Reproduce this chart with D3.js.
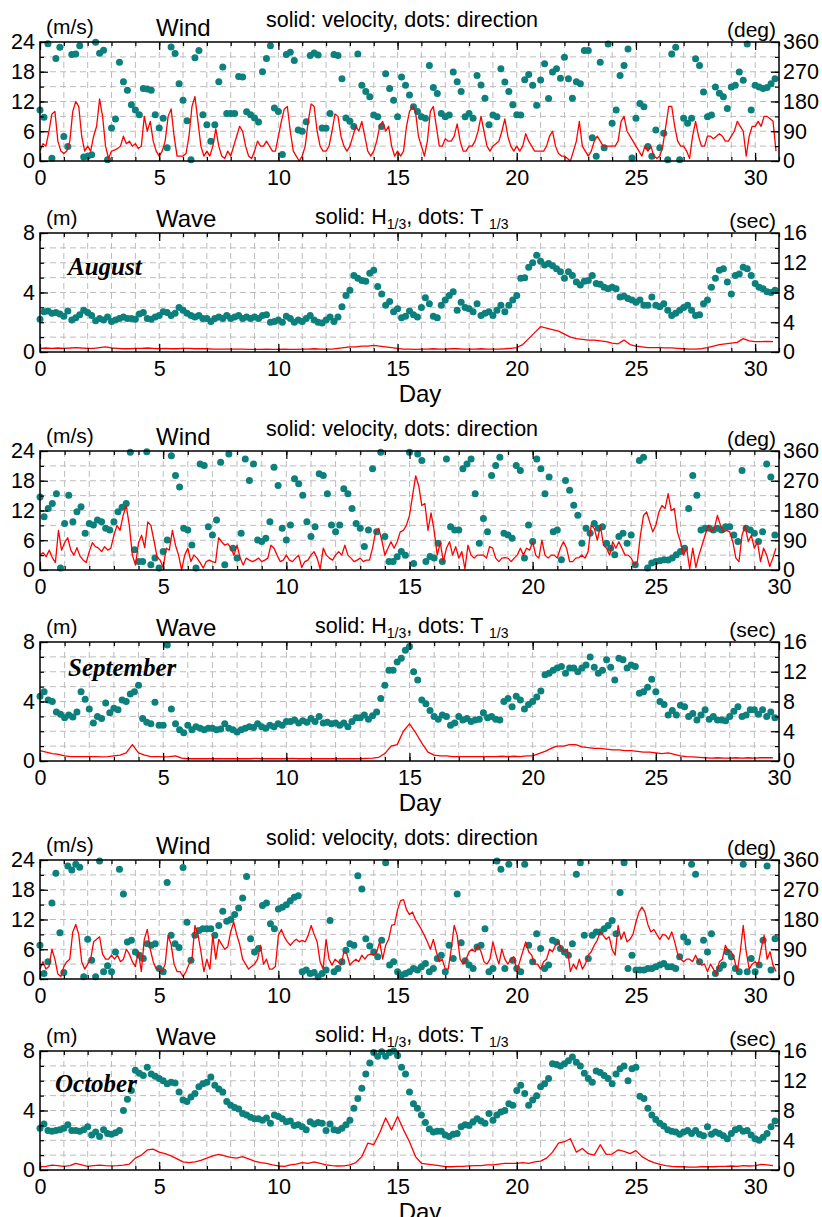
<!DOCTYPE html>
<html>
<head>
<meta charset="utf-8">
<script src="https://cdn.jsdelivr.net/npm/d3@7"></script>
<style>
  body { margin: 0; background: #fff; }
  svg text { font-family: "Liberation Sans", Arial, sans-serif; fill: #000; }
  svg text.month { font-family: "Liberation Serif", "Times New Roman", serif; font-style: italic; font-weight: bold; }
  .grid line { stroke: #bcbcbc; stroke-dasharray: 6,4; stroke-width: 1; }
  .axis path.domain { display: none; }
  .axis line { stroke: #000; stroke-width: 1.2; }
  .axis text { font-size: 21.5px; font-family: "Liberation Sans", Arial, sans-serif; }
</style>
</head>
<body>
<svg id="chart" width="822" height="1217"></svg>
<script>
'use strict'

// ---- axis ticks ----
const windSpeedTicks = [0, 6, 12, 18, 24];
const windDirTicks = [0, 90, 180, 270, 360];
const waveHTicks = [0, 4, 8];
const waveTTicks = [0, 4, 8, 12, 16];
const dayTicks = [0, 5, 10, 15, 20, 25, 30];

const monthNames = ['August', 'September', 'October'];
const monthDays = [31, 30, 31];

// sampling: wind speed 8/day, wind dir 6/day, H1/3 4/day, T1/3 6/day
const speedPerDay = 8, dirPerDay = 6, hPerDay = 4, tPerDay = 6;

// ---- August ----
const augWindSpeed = [
  2, 3.5, 3, 6, 9.5, 10, 4, 2,
  1.5, 2, 4, 10, 12, 11, 5, 2,
  3, 2, 5, 7, 12.5, 9, 3, 0.5,
  2, 2.2, 2.5, 3, 5, 3.5, 4, 3,
  3.5, 2.5, 3, 9, 6, 8, 4, 2,
  1, 2, 4, 9, 10.5, 5, 1, 1,
  1, 1.5, 5, 11, 13, 8, 3, 1,
  2, 1, 3, 6.5, 3, 1, 0.5, 2,
  1, 3, 5, 7, 6, 3, 1, 0.5,
  2, 4, 3, 3, 4, 3, 2, 2,
  5, 8, 10.5, 11, 6, 2, 1, 0,
  1, 3, 8, 11.5, 11, 6, 3, 2,
  2, 3, 6, 9.5, 9, 5, 3, 2,
  3, 5, 7, 6, 8, 5, 2, 1,
  2, 4, 7, 8, 6, 7, 3, 1,
  2, 1, 2, 7, 10, 11, 10, 5,
  3, 1, 4, 10, 11, 7, 3, 3,
  4.5, 4, 4, 5, 7.5, 4, 2, 2,
  3, 3, 4, 6, 9, 6, 3, 2,
  3, 3.5, 4, 6, 8.5, 5, 3, 2,
  3, 2, 3, 5.5, 4, 3, 2, 2,
  2, 2, 3, 5, 6, 3, 1.5, 1,
  1, 0.5, 0, 2, 4, 8, 3, 2,
  1, 2, 4, 5, 4, 3, 3, 3,
  3, 3, 4, 8, 9, 6, 5, 4,
  3, 2, 1, 3, 2, 3, 1, 0.5,
  1, 3, 7, 11, 11, 7, 4, 3,
  3, 2, 0.5, 5, 8, 5, 3, 3,
  5, 5, 4.5, 5, 5.5, 5, 4, 4,
  5, 6, 8, 7, 6, 1, 5, 7,
  7, 8, 7, 9, 9, 8.5, 8, 2
];
const augWindDir = [
  154, 132, 355, 8, 310, 344,
  74, 44, 322, 324, 349, 12,
  14, 19, 359, 326, 335, 4,
  100, 127, 299, 240, 214, 170,
  154, 140, 219, 218, 214, 140,
  100, 129, 40, 345, 325, 234,
  184, 122, 4, 312, 334, 140,
  110, 60, 110, 240, 284, 144,
  144, 144, 256, 254, 149, 140,
  130, 118, 270, 310, 349, 160,
  150, 20, 322, 329, 304, 94,
  90, 119, 319, 327, 321, 100,
  99, 144, 322, 319, 249, 130,
  120, 104, 324, 229, 210, 194,
  139, 134, 104, 264, 219, 184,
  134, 254, 229, 200, 164, 150,
  134, 129, 289, 222, 204, 144,
  134, 139, 269, 240, 210, 134,
  144, 129, 259, 230, 190, 110,
  139, 134, 279, 239, 210, 170,
  140, 139, 246, 262, 229, 169,
  245, 294, 189, 269, 279, 250,
  314, 249, 190, 240, 234, 334,
  334, 70, 14, 299, 40, 354,
  114, 154, 259, 289, 339, 9,
  129, 174, 164, 44, 14, 94,
  40, 84, 4, 324, 344, 4,
  129, 114, 129, 309, 289, 209,
  134, 139, 224, 205, 194, 159,
  224, 229, 269, 244, 354, 154,
  229, 224, 219, 222, 234, 249
];
const augWaveH = [
  .25, .27, .25, .27,  .25, .27, .3, .27,  .25, .25, .3, .35,  .27, .25, .22, .22,
  .25, .25, .27, .25,  .22, .25, .22, .22,  .25, .25, .22, .22,  .22, .2, .2, .2,
  .2, .2, .2, .18,  .18, .18, .2, .18,  .18, .2, .18, .18,  .2, .2, .22, .2,
  .2, .2, .25, .3,  .35, .35, .4, .4,  .45, .4, .35, .3,  .25, .2, .2, .18,
  .2, .2, .22, .2,  .2, .22, .22, .2,  .2, .2, .22, .2,  .2, .2, .22, .25,
  .3, .5, .9, 1.3,  1.7, 1.6, 1.5, 1.4,  1.2, 1.0, .9, .85,  .8, .8, .75, .7,
  .6, .55, .8, .5,  .4, .35, .3, .3,  .3, .28, .28, .25,  .22, .2, .2, .22,
  .3, .4, .5, .55,  .6, .65, .9, .75,  .7, .7, .72, .7
];
const augWaveT = [
  4.4, 5.4, 5.5, 5.2, 5.3, 5.1,
  4.8, 5.5, 4.3, 4.6, 5.0, 5.6,
  5.3, 4.9, 4.2, 4.5, 4.3, 4.7,
  4.1, 4.3, 4.5, 4.7, 4.5, 4.5,
  4.4, 5.1, 5.3, 4.5, 4.4, 4.7,
  4.9, 5.4, 5.3, 4.9, 5.2, 6.0,
  5.6, 5.2, 4.9, 4.7, 4.9, 4.5,
  4.5, 4.1, 4.5, 4.7, 4.5, 4.9,
  4.5, 4.7, 4.9, 4.5, 4.7, 4.5,
  4.7, 4.5, 4.9, 5.0, 4.0, 4.1,
  4.3, 4.0, 4.8, 4.5, 4.0, 4.3,
  4.1, 4.5, 4.9, 4.3, 4.0, 3.9,
  4.3, 4.7, 4.1, 4.7, 6.1, 7.6,
  8.3, 10.3, 9.9, 9.6, 9.5, 10.6,
  11.0, 8.8, 7.8, 6.3, 6.8, 5.4,
  5.8, 4.6, 4.8, 5.5, 5.0, 4.7,
  6.0, 7.3, 6.5, 4.8, 4.6, 6.3,
  7.0, 7.6, 8.1, 5.6, 6.7, 6.0,
  5.8, 5.4, 6.5, 4.9, 5.2, 5.4,
  4.9, 5.6, 6.3, 5.4, 6.3, 7.0,
  7.6, 9.9, 10.0, 11.4, 12.0, 13.0,
  12.2, 11.7, 11.9, 11.6, 11.2, 10.8,
  9.9, 10.8, 10.3, 9.4, 9.0, 9.5,
  9.6, 10.3, 9.2, 9.1, 8.7, 8.5,
  8.7, 8.5, 7.4, 7.5, 7.2, 7.0,
  6.7, 7.0, 6.3, 6.3, 7.4, 6.3,
  6.1, 6.5, 5.6, 4.9, 5.2, 5.6,
  6.0, 6.3, 5.6, 4.9, 5.0, 6.5,
  7.0, 8.7, 9.9, 11.0, 11.2, 9.4,
  7.8, 10.3, 10.5, 11.4, 11.2, 10.3,
  9.2, 8.7, 8.5, 8.1, 8.0, 8.3
];

// ---- September ----
const sepWindSpeed = [
  3, 3.5, 2.7, 4, 2.5, 1.5, 8, 4,
  5.5, 6.5, 4, 3, 4.5, 2.8, 2, 1.5,
  3.7, 5.5, 4.7, 4.4, 3.7, 4.7, 4, 4.4,
  7, 9, 8, 11, 13, 9, 3, 1,
  5.5, 7, 4.5, 9.7, 9, 6, 2.7, 2,
  0.5, 4.4, 4, 8, 5, 3, 0, 3,
  4.4, 1.7, 3, 2.4, 1.5, 0.4, 1.7, 2,
  1.7, 1.5, 6.5, 5.7, 5, 5.3, 4.4, 3,
  5, 2.4, 1, 2.4, 2, 1.7, 2, 2.4,
  1.7, 2, 2.4, 5, 4.4, 3, 1.7, 2,
  3, 2, 1.7, 2.4, 3, 0.5, 1.7, 2,
  3, 3.7, 2.4, 0.2, 4.4, 3, 2.4, 2,
  3, 3.7, 3, 5, 3, 2.4, 1.7, 2,
  2.4, 1.7, 2, 2, 4.4, 7.7, 8.4, 6,
  3, 4.4, 5.7, 4.4, 5.7, 7.7, 8, 9,
  11, 15, 19, 17, 13, 13.4, 8, 11.5,
  8, 3, 5.5, 1.7, 4.4, 5.7, 3, 4.7,
  2.4, 3.7, 0.2, 5, 3, 2.4, 3, 3,
  3, 2.4, 4.7, 4.4, 2.4, 1.7, 2.4, 2.5,
  2.4, 1.7, 2.4, 3, 4.4, 3, 4.4, 4,
  5.7, 3, 2.4, 6, 3, 2.4, 3, 3,
  2.4, 4.4, 5.7, 4.4, 1.7, 1.7, 2.4, 2.5,
  3, 2.4, 3.7, 9, 8.4, 6, 9, 5,
  4.4, 3, 5.7, 4.4, 5.7, 4.4, 3, 3,
  2.4, 1, 1.7, 7, 11, 11.7, 9.7, 7.7,
  9, 11.7, 13, 12.4, 15.4, 12, 12.4, 7.7,
  5.7, 3, 4.4, 0.2, 4.4, 0.5, 3, 5,
  7, 9, 7.7, 8.4, 11, 9, 7.7, 8,
  7.7, 5.7, 2.4, 1.7, 7, 9, 5.7, 7,
  4.4, 5.7, 1.7, 4.4, 3, 0.7, 2.4, 4.4
];
const sepWindDir = [
  221, 161, 186, 201, 231, 6,
  141, 226, 146, 176, 191, 111,
  141, 136, 151, 146, 126, 121,
  146, 176, 190, 201, 356, 61,
  26, 26, 358, 16, 36, 6,
  56, 91, 346, 286, 251, 126,
  121, 76, 6, 321, 316, 131,
  106, 151, 326, 16, 351, 66,
  36, 111, 336, 271, 321, 91,
  86, 96, 146, 311, 256, 126,
  91, 136, 276, 261, 226, 146,
  101, 131, 291, 286, 231, 136,
  116, 136, 246, 231, 186, 141,
  126, 71, 121, 306, 116, 356,
  101, 26, 26, 40, 56, 45,
  356, 20, 351, 331, 26, 41,
  36, 81, 26, 336, 131, 121,
  121, 306, 321, 336, 231, 81,
  156, 116, 286, 316, 341, 111,
  106, 96, 316, 301, 36, 136,
  86, 336, 306, 231, 281, 116,
  121, 31, 271, 241, 196, 166,
  81, 126, 111, 141, 126, 131,
  81, 66, 46, 101, 111, 81,
  106, 16, 331, 341, 6, 21,
  26, 28, 31, 30, 36, 46,
  56, 66, 186, 286, 226, 121,
  126, 126, 121, 126, 121, 131,
  131, 106, 86, 301, 126, 121,
  111, 86, 116, 321, 281, 106
];
const sepWaveH = [
  .7, .6, .5, .45,  .35, .3, .3, .3,  .3, .3, .28, .3,  .35, .4, .55, 1.1,
  .55, .4, .3, .3,  .28, .3, .35, .2,  .15, .15, .15, .15,  .15, .15, .15, .15,
  .15, .15, .15, .18,  .15, .15, .15, .15,  .15, .18, .15, .15,  .15, .15, .15, .15,
  .15, .15, .15, .15,  .15, .18, .2, .25,  .5, 1.0, 1.1, 2.0,  2.5, 1.9, 1.2, .6,
  .4, .35, .35, .3,  .3, .3, .3, .3,  .3, .3, .3, .32,  .3, .32, .3, .35,
  .35, .5, .65, .85,  1.0, 1.0, 1.1, 1.1,  .95, .9, .85, .85,  .8, .75, .75, .7,
  .7, .65, .6, .6,  .55, .5, .55, .45,  .35, .3, .28, .25,  .22, .2, .22, .2,
  .2, .22, .2, .22,  .2, .22, .22, .22
];
const sepWaveT = [
  8.7, 9.3, 8.2, 8.0, 6.6, 6.3,
  5.8, 6.2, 5.9, 6.6, 9.3, 8.3,
  7.0, 5.1, 6.0, 5.7, 7.8, 6.5,
  7.1, 6.9, 8.2, 8.0, 9.0, 9.3,
  10.2, 5.7, 5.2, 5.0, 7.9, 4.8,
  4.8, 15.6, 7.0, 5.0, 4.2, 3.8,
  4.8, 4.2, 4.6, 4.4, 4.2, 4.4,
  4.4, 4.2, 4.3, 5.0, 4.4, 4.2,
  3.9, 4.2, 4.4, 4.6, 4.5, 5.0,
  4.6, 4.4, 4.8, 4.6, 5.0, 4.8,
  5.3, 5.3, 5.5, 5.1, 5.4, 5.2,
  5.7, 5.3, 6.0, 5.1, 5.2, 5.0,
  5.1, 4.8, 5.1, 4.6, 5.3, 5.8,
  5.8, 6.2, 5.6, 6.1, 6.6, 8.4,
  10.2, 12.2, 12.2, 13.3, 13.8, 14.9,
  15.4, 12.0, 10.9, 8.2, 7.7, 6.8,
  6.0, 5.6, 6.2, 6.0, 4.8, 5.1,
  6.0, 5.5, 5.7, 5.3, 5.5, 5.6,
  6.5, 5.8, 6.0, 5.6, 5.5, 8.0,
  8.4, 7.3, 8.7, 8.2, 7.0, 7.6,
  8.0, 8.6, 9.4, 11.6, 11.8, 12.2,
  12.5, 12.7, 11.8, 12.5, 12.5, 12.0,
  12.5, 12.9, 14.0, 12.6, 11.8, 12.2,
  13.6, 12.6, 10.9, 13.8, 13.6, 12.5,
  12.9, 12.7, 9.1, 9.3, 9.9, 11.0,
  9.3, 8.0, 7.6, 6.2, 6.8, 6.2,
  7.5, 7.3, 6.0, 6.4, 5.5, 6.2,
  6.9, 5.6, 6.0, 5.5, 5.5, 5.4,
  6.0, 6.7, 7.3, 6.0, 6.2, 6.9,
  6.9, 6.3, 6.9, 6.0, 6.6, 5.8
];

// ---- October ----
const octWindSpeed = [
  2, 3.5, 2, 2.5, 6, 4, 1, 0.5,
  2.5, 3.5, 4, 9.5, 11, 9, 3.5, 2,
  3, 4, 7.5, 8, 8.5, 5, 4, 4,
  4.8, 4, 4.8, 3.5, 4, 6, 5, 3.5,
  2.5, 5.5, 1.5, 8, 10, 6, 3.5, 2,
  2, 1.5, 3, 8.8, 7, 3, 1.5, 1.5,
  0.5, 1.5, 3, 4, 10.8, 9, 5.5, 1.5,
  4, 2, 8.8, 4, 8, 7, 6, 6.5,
  9.5, 11.5, 9, 7, 4, 3, 2, 2.5,
  3, 4, 6.8, 3, 4, 2, 2, 2.5,
  8.8, 10, 8.5, 7.5, 6.8, 7.5, 8, 7.5,
  7.8, 7.5, 8.8, 10.8, 9, 7.5, 3.5, 2,
  8, 4, 2.8, 4, 3.5, 2.8, 5.5, 5,
  2.8, 3.5, 4, 3.5, 4.8, 4, 4.8, 5,
  4.8, 5.5, 7.5, 4, 6.8, 8, 10.8, 11,
  14, 15.8, 16, 14, 13, 13.5, 12, 11,
  10, 8.8, 7.5, 6, 8, 5.5, 3.5, 4,
  2, 2, 6, 10.8, 8.8, 4, 3, 4,
  5.5, 6, 5.5, 6.8, 5.5, 3.5, 3, 4,
  7.5, 5, 3, 6, 4, 3, 4, 4.5,
  1.5, 3.5, 5.5, 7.5, 5.5, 4.8, 3, 3,
  2, 3.5, 4, 6, 5.5, 6.8, 7.5, 6,
  5.5, 6, 1.5, 3, 2, 4, 2, 3,
  4.8, 5.5, 6.8, 7.8, 9.5, 8.8, 8, 8.5,
  6, 4.8, 10.8, 8, 9.5, 7.5, 8, 9,
  11.5, 13.5, 14.5, 13.5, 11, 9.5, 10, 9,
  8, 9, 8.8, 8, 9.5, 7.5, 5, 4,
  3.5, 4, 4, 3.5, 4.8, 3.5, 2.8, 3,
  1.5, 3, 2, 0.8, 3.5, 4, 6.8, 5.5,
  5.5, 4, 1.5, 5.5, 10.8, 5.5, 2, 3,
  3.5, 2.8, 6, 8.8, 4, 5.5, 2.8, 1.5
];
const octWindDir = [
  102, 17, 52, 230, 320, 140,
  20, 342, 330, 347, 338, 7,
  120, 57, 7, 357, 22, 40,
  22, 82, 332, 257, 112, 117,
  82, 72, 62, 107, 102, 107,
  32, 22, 292, 132, 107, 95,
  337, 172, 57, 132, 147, 152,
  152, 152, 132, 162, 205, 175,
  180, 195, 215, 245, 310, 122,
  82, 92, 222, 230, 167, 152,
  212, 217, 225, 237, 247, 252,
  22, 27, 17, 20, 7, 17,
  27, 177, 22, 32, 52, 87,
  107, 102, 312, 272, 122, 100,
  82, 67, 117, 352, 42, 52,
  22, 12, 17, 22, 32, 27,
  37, 47, 22, 32, 62, 72,
  22, 102, 62, 257, 110, 55,
  42, 32, 97, 102, 152, 22,
  32, 357, 332, 32, 347, 57,
  32, 22, 347, 102, 52, 137,
  92, 32, 42, 117, 112, 92,
  82, 72, 107, 317, 352, 132,
  62, 132, 142, 142, 152, 162,
  177, 137, 262, 352, 32, 72,
  27, 27, 27, 32, 32, 37,
  42, 47, 37, 37, 32, 67,
  127, 112, 347, 317, 52, 117,
  82, 137, 17, 32, 42, 82,
  67, 32, 22, 347, 22, 62,
  22, 42, 117, 342, 27, 122
];
const octWaveH = [
  .22, .25, .33, .3,  .25, .3, .45, .35,  .25, .3, .33, .3,  .28, .3, .33, .4,
  .8, 1.0, 1.35, 1.4,  1.2, 1.1, .95, .75,  .55, .5, .55, .65,  .8, .95, 1.05, .95,
  .85, .8, .9, .75,  .6, .5, .45, .35,  .27, .25, .35, .4,  .5, .45, .55, .45,
  .35, .3, .27, .28,  .35, .5, .9, 1.8,  1.7, 2.5, 3.5, 2.7,  3.6, 2.7, 1.9, .9,
  .45, .4, .35, .3,  .22, .22, .25, .25,  .28, .3, .3, .35,  .35, .4, .45, .45,
  .45, .5, .45, .55,  .6, .8, 1.2, 1.8,  1.9, 2.1, 1.2, 1.45,  1.1, 1.0, 1.7, 1.05,
  1.07, 1.35, 1.25, 1.1,  1.3, .9, .67, .5,  .38, .3, .25, .22,  .22, .2, .2, .22,
  .22, .22, .25, .25,  .27, .25, .3, .27,  .3, .38, .35, .3
];
const octWaveT = [
  5.6, 6.2, 5.3, 5.2, 5.3, 5.4,
  5.6, 6.1, 5.3, 5.3, 5.2, 5.4,
  5.8, 4.7, 5.1, 4.5, 5.4, 4.9,
  4.8, 5.0, 5.3, 8.0, 9.5, 10.7,
  13.4, 13.0, 12.7, 13.8, 12.9, 12.6,
  12.3, 12.0, 11.6, 11.8, 11.7, 10.5,
  9.4, 9.2, 9.8, 10.3, 11.2, 11.6,
  11.8, 12.5, 11.4, 10.9, 10.5, 9.2,
  8.7, 8.4, 8.2, 7.6, 7.4, 7.1,
  6.9, 6.9, 6.7, 7.0, 6.3, 7.4,
  7.2, 6.9, 6.5, 6.6, 6.0, 6.1,
  5.8, 5.4, 6.5, 6.2, 6.4, 6.3,
  5.3, 6.2, 5.4, 5.3, 5.6, 6.1,
  6.7, 8.3, 9.6, 11.0, 12.9, 14.4,
  15.8, 15.3, 15.9, 15.3, 15.8, 16.0,
  15.4, 13.8, 12.9, 10.5, 8.9, 8.3,
  7.4, 6.4, 5.5, 5.1, 5.2, 5.2,
  4.7, 4.5, 4.8, 4.9, 5.8, 6.1,
  6.0, 6.5, 6.9, 6.6, 6.3, 7.6,
  6.7, 7.4, 7.8, 8.0, 8.9, 8.7,
  10.7, 11.4, 10.3, 8.7, 9.4, 10.0,
  11.2, 11.6, 12.3, 14.3, 14.2, 14.0,
  14.3, 14.7, 15.2, 14.5, 14.0, 13.0,
  12.3, 11.8, 13.3, 13.1, 12.7, 12.3,
  11.6, 12.9, 13.6, 14.0, 12.0, 13.6,
  13.8, 9.9, 9.6, 8.3, 7.4, 6.8,
  6.3, 5.9, 5.4, 5.2, 5.1, 4.8,
  5.1, 5.3, 4.9, 5.3, 4.8, 4.6,
  5.8, 4.8, 5.1, 4.9, 4.6, 4.2,
  4.9, 5.4, 5.6, 5.2, 5.3, 4.7,
  4.2, 4.0, 4.4, 4.9, 5.8, 6.6
];

const windSpeedSets = [augWindSpeed, sepWindSpeed, octWindSpeed];
const windDirSets = [augWindDir, sepWindDir, octWindDir];
const waveHSets = [augWaveH, sepWaveH, octWaveH];
const waveTSets = [augWaveT, sepWaveT, octWaveT];

// ---- layout ----
const plotLeft = 40, plotRight = 779, plotH = 119;
const windTops = [42, 451, 860];
const waveTops = [233, 642, 1051];
const monthLabelXY = [[68, 275], [68, 676], [55, 1092]];
const dotColor = '#0b807c', lineColor = '#ff0000';

const svg = d3.select('#chart');

function drawPanel(top, days, cfg) {
  const g = svg.append('g').attr('transform', 'translate(0,' + top + ')');
  const x = d3.scaleLinear().domain([0, days]).range([plotLeft, plotRight]);
  const yL = d3.scaleLinear().domain([0, cfg.leftMax]).range([plotH, 0]);
  const yR = d3.scaleLinear().domain([0, cfg.rightMax]).range([plotH, 0]);
  const minorY = d3.range(0, cfg.leftMax + cfg.leftStep / 2, cfg.leftStep);
  const minorX = d3.range(0, days + 1);

  // dashed grid
  const grid = g.append('g').attr('class', 'grid');
  grid.selectAll('line.v').data(d3.range(1, days)).join('line').attr('class', 'v')
    .attr('x1', d => x(d)).attr('x2', d => x(d)).attr('y1', 0).attr('y2', plotH);
  grid.selectAll('line.h').data(minorY.slice(1, -1)).join('line').attr('class', 'h')
    .attr('x1', plotLeft).attr('x2', plotRight).attr('y1', d => yL(d)).attr('y2', d => yL(d));

  // dots (right axis) then line (left axis)
  g.append('g').selectAll('circle').data(cfg.dots).join('circle')
    .attr('cx', (d, i) => x(i / cfg.dotPerDay))
    .attr('cy', d => yR(d))
    .attr('r', 3.5)
    .attr('fill', dotColor);

  const line = d3.line()
    .x((d, i) => x(i / cfg.linePerDay))
    .y(d => yL(d));
  g.append('path').datum(cfg.line)
    .attr('d', line)
    .attr('fill', 'none')
    .attr('stroke', lineColor)
    .attr('stroke-width', 1.3)
    .attr('stroke-linejoin', 'round');

  // inside ticks
  const bottom = g.append('g').attr('class', 'axis').attr('transform', 'translate(0,' + plotH + ')');
  bottom.call(d3.axisBottom(x).tickValues(minorX).tickSize(-4).tickFormat(''));
  bottom.append('g').call(d3.axisBottom(x).tickValues(dayTicks).tickSize(-8).tickPadding(9));
  g.append('g').attr('class', 'axis').call(d3.axisTop(x).tickValues(minorX).tickSize(-4).tickFormat(''));
  g.append('g').attr('class', 'axis').call(d3.axisTop(x).tickValues(dayTicks).tickSize(-8).tickFormat(''));

  const left = g.append('g').attr('class', 'axis').attr('transform', 'translate(' + plotLeft + ',0)');
  left.call(d3.axisLeft(yL).tickValues(minorY).tickSize(-4).tickFormat(''));
  left.append('g').call(d3.axisLeft(yL).tickValues(cfg.leftTicks).tickSize(-8).tickPadding(5));

  const right = g.append('g').attr('class', 'axis').attr('transform', 'translate(' + plotRight + ',0)');
  right.call(d3.axisRight(yL).tickValues(minorY).tickSize(-4).tickFormat(''));
  right.append('g').call(d3.axisRight(yR).tickValues(cfg.rightTicks).tickSize(-8).tickPadding(4));

  // frame
  g.append('rect').attr('x', plotLeft).attr('y', 0)
    .attr('width', plotRight - plotLeft).attr('height', plotH)
    .attr('fill', 'none').attr('stroke', '#000').attr('stroke-width', 1.5);

  return g;
}

function header(g, leftUnit, title, rightUnit, wave) {
  g.append('text').attr('x', 46).attr('y', -8).attr('font-size', 21).text(leftUnit);
  g.append('text').attr('x', 156).attr('y', -6).attr('font-size', 24).text(title);
  g.append('text').attr('x', 776).attr('y', -5).attr('font-size', 21)
    .attr('text-anchor', 'end').text(rightUnit);
  if (!wave) {
    g.append('text').attr('x', 266).attr('y', -15).attr('font-size', 21.5)
      .text('solid: velocity, dots: direction');
  } else {
    const t = g.append('text').attr('x', 315).attr('y', -9).attr('font-size', 21.5);
    t.append('tspan').text('solid: H');
    t.append('tspan').attr('font-size', 14).attr('dy', 5).text('1/3');
    t.append('tspan').attr('dy', -5).text(', dots: T ');
    t.append('tspan').attr('font-size', 14).attr('dy', 5).text('1/3');
  }
}

monthNames.forEach((name, m) => {
  const days = monthDays[m];

  const gw = drawPanel(windTops[m], days, {
    leftMax: 24, leftStep: 3, leftTicks: windSpeedTicks,
    rightMax: 360, rightTicks: windDirTicks,
    line: windSpeedSets[m], linePerDay: speedPerDay,
    dots: windDirSets[m], dotPerDay: dirPerDay
  });
  header(gw, '(m/s)', 'Wind', '(deg)', false);

  const gv = drawPanel(waveTops[m], days, {
    leftMax: 8, leftStep: 1, leftTicks: waveHTicks,
    rightMax: 16, rightTicks: waveTTicks,
    line: waveHSets[m], linePerDay: hPerDay,
    dots: waveTSets[m], dotPerDay: tPerDay
  });
  header(gv, '(m)', 'Wave', '(sec)', true);

  gv.append('text').attr('x', 420).attr('y', plotH + 50)
    .attr('text-anchor', 'middle').attr('font-size', 24).text('Day');

  svg.append('text').attr('class', 'month')
    .attr('x', monthLabelXY[m][0]).attr('y', monthLabelXY[m][1])
    .attr('font-size', 25)
    .text(name);
});
</script>
</body>
</html>
